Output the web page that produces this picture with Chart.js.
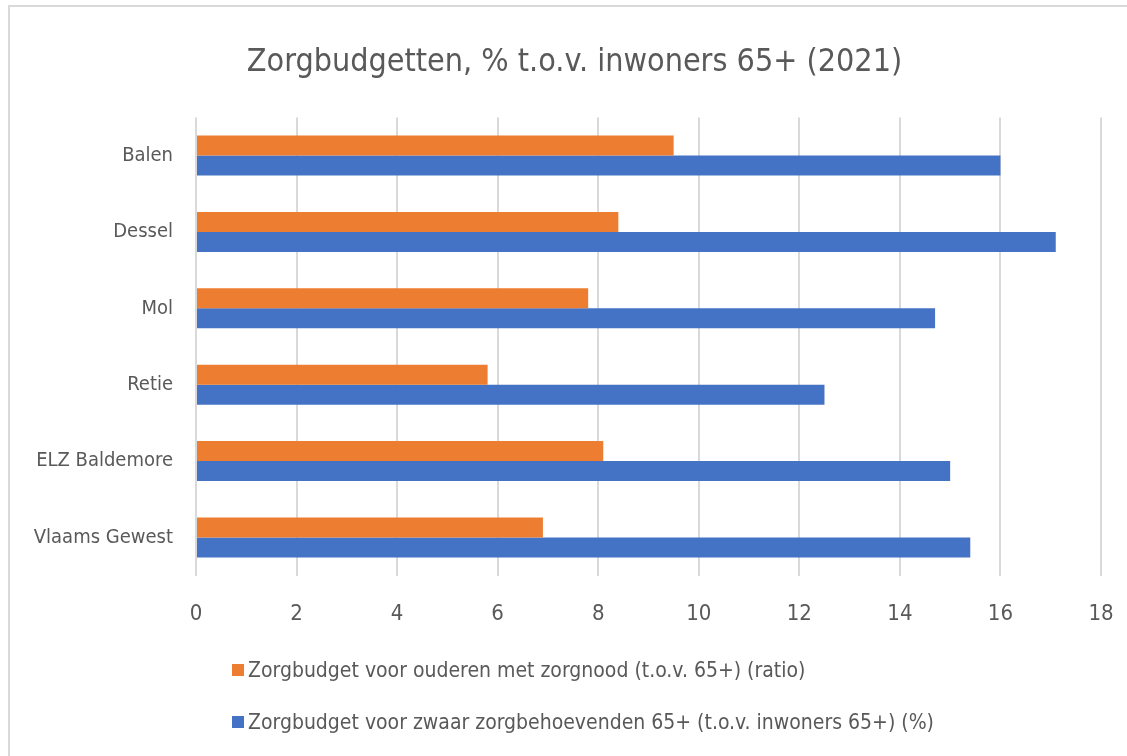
<!DOCTYPE html>
<html>
<head>
<meta charset="utf-8">
<title>Zorgbudgetten</title>
<script src="https://cdn.jsdelivr.net/npm/chart.js@4.4.0/dist/chart.umd.min.js"></script>
<style>
  body { margin: 0; background: #fff; overflow: hidden; width: 1127px; height: 756px; position: relative; }
  #frame { position: absolute; left: 8px; top: 5px; width: 1140px; height: 800px; border: 2px solid #d9d9d9; }
  #wrap { position: absolute; left: 0; top: 0; width: 1130px; height: 645px; }
  #legend { position: absolute; left: 222px; top: 637px; font-family: 'Liberation Sans Narrow', 'DejaVu Sans Condensed', sans-serif; font-size: 21px; color: #595959; }
  .item { height: 52px; display: flex; align-items: center; white-space: nowrap; }
  .sw { width: 12px; height: 12px; margin-right: 4px; }
</style>
</head>
<body>
<div id="frame">
  <div id="wrap"><canvas id="chart"></canvas></div>
  <div id="legend"></div>
</div>
<script>
// categories (top to bottom)
var gemeenten = ['Balen', 'Dessel', 'Mol', 'Retie', 'ELZ Baldemore', 'Vlaams Gewest'];
// series names
var reeksen = [
  'Zorgbudget voor ouderen met zorgnood (t.o.v. 65+) (ratio)',
  'Zorgbudget voor zwaar zorgbehoevenden 65+ (t.o.v. inwoners 65+) (%)'
];
var ouderenZorgnood = [9.5, 8.4, 7.8, 5.8, 8.1, 6.9];
var zwaarZorgbehoevend = [16.0, 17.1, 14.7, 12.5, 15.0, 15.4];
var xTicks = [0, 2, 4, 6, 8, 10, 12, 14, 16, 18];
var titel = 'Zorgbudgetten, % t.o.v. inwoners 65+ (2021)';

var kleuren = ['#ED7D31', '#4472C4'];
var font = "'Liberation Sans Narrow', 'DejaVu Sans Condensed', sans-serif";
var grijs = '#595959';

// title is centred on the whole chart box, not on the plot area
var titelMidden = {
  id: 'titelMidden',
  afterLayout: function (c) { c.titleBlock.left = 38; }
};

var chart = new Chart(document.getElementById('chart'), {
  type: 'bar',
  data: {
    labels: gemeenten,
    datasets: [
      { label: reeksen[0], data: ouderenZorgnood, backgroundColor: kleuren[0] },
      { label: reeksen[1], data: zwaarZorgbehoevend, backgroundColor: kleuren[1] }
    ]
  },
  options: {
    indexAxis: 'y',
    responsive: true,
    maintainAspectRatio: false,
    animation: false,
    categoryPercentage: 0.524,
    barPercentage: 1.0,
    layout: { padding: { left: 0, right: 39, top: 0, bottom: 0 } },
    plugins: {
      legend: { display: false },
      tooltip: { enabled: false },
      title: {
        display: true,
        text: titel,
        color: grijs,
        font: { family: font, size: 32, weight: 'normal' },
        padding: { top: 36, bottom: 36 }
      }
    },
    scales: {
      x: {
        min: xTicks[0],
        max: xTicks[xTicks.length - 1],
        afterBuildTicks: function (axis) {
          axis.ticks = xTicks.map(function (v) { return { value: v }; });
        },
        grid: { color: '#d9d9d9', lineWidth: 2, drawTicks: false },
        border: { display: false },
        ticks: { color: grijs, padding: 25, font: { family: font, size: 22 } }
      },
      y: {
        afterFit: function (axis) { axis.width = 186; },
        grid: { display: false, drawTicks: false },
        border: { display: false },
        ticks: { color: grijs, padding: 23, font: { family: font, size: 20 } }
      }
    }
  },
  plugins: [titelMidden]
});

// legend below the chart, items stacked
var leg = document.getElementById('legend');
reeksen.forEach(function (naam, i) {
  var item = document.createElement('div');
  item.className = 'item';
  var sw = document.createElement('span');
  sw.className = 'sw';
  sw.style.background = kleuren[i];
  var t = document.createElement('span');
  t.textContent = naam;
  item.appendChild(sw);
  item.appendChild(t);
  leg.appendChild(item);
});
</script>
</body>
</html>
